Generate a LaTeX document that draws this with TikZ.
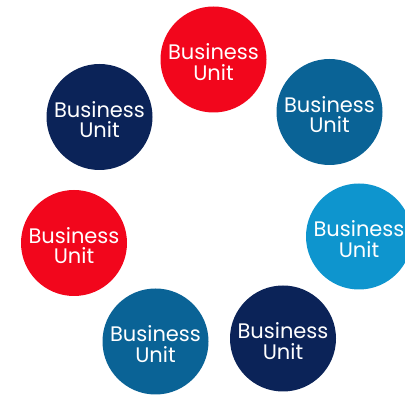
\documentclass[tikz,border=0pt]{standalone}
\usepackage{fontspec}
\setmainfont{Poppins}
\definecolor{buRed}{HTML}{F2061C}
\definecolor{buNavy}{HTML}{0B2358}
\definecolor{buMid}{HTML}{0A6396}
\definecolor{buLight}{HTML}{0E95CE}
\begin{document}
\begin{tikzpicture}[x=1pt,y=-1pt,
  unit/.style={circle,minimum size=106pt,inner sep=0pt,
    label={[text=white,align=center,yshift=-2.5pt,
      font=\fontsize{21}{20.5}\selectfont]center:Business\\Unit}}]
\useasboundingbox (0,0) rectangle (405,395);
\begin{scope}
\clip (0,0) rectangle (405,395);
\node[unit,fill=buRed]   (u1) at (213.5,59.5) {};
\node[unit,fill=buMid]   (u2) at (329.5,112)  {};
\node[unit,fill=buLight] (u3) at (359,236.5)  {};
\node[unit,fill=buNavy]  (u4) at (283,338.5)  {};
\node[unit,fill=buMid]   (u5) at (155.5,341.5){};
\node[unit,fill=buRed]   (u6) at (74,243)     {};
\node[unit,fill=buNavy]  (u7) at (99.5,117)   {};
\end{scope}
\end{tikzpicture}
\end{document}
